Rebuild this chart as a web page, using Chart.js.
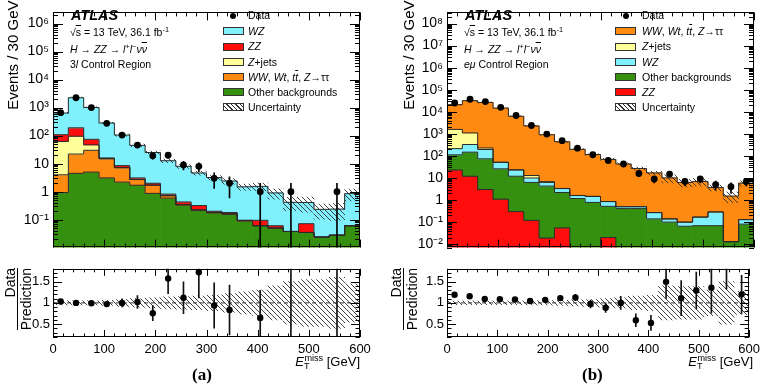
<!DOCTYPE html>
<html><head><meta charset="utf-8">
<script src="https://cdn.jsdelivr.net/npm/chart.js@4.4.0/dist/chart.umd.min.js"></script>
<style>
html,body{margin:0;padding:0;background:#fff}
body{width:765px;height:387px;overflow:hidden;position:relative;font-family:'Liberation Sans',Arial,Helvetica,sans-serif;color:#000}
canvas{position:absolute}
.t{position:absolute;white-space:nowrap;line-height:1}
.ann{font-size:10.5px}
.leg{font-size:10.5px}
.sw{position:absolute;width:20px;height:8px;border:1px solid #333;box-sizing:border-box}
.dot{position:absolute;width:6px;height:6px;border-radius:50%;background:#000}
.ol{text-decoration:overline}
sup,sub{line-height:0;font-size:70%}
.rot{position:absolute;white-space:nowrap;line-height:1;transform:rotate(-90deg);transform-origin:center center;text-align:right}
.frac{display:inline-flex;flex-direction:column;align-items:flex-end;font-size:14px;line-height:1.02}
.frac .den{border-top:1px solid #000;padding-top:1px}
.lbl{font-family:'Liberation Serif','Times New Roman',serif;font-weight:bold;font-size:17px}
</style></head><body>
<canvas id="mainA" width="385" height="260" style="left:0;top:0"></canvas>
<canvas id="ratioA" width="385" height="100" style="left:0;top:258px"></canvas>
<canvas id="mainB" width="380" height="260" style="left:385px;top:0"></canvas>
<canvas id="ratioB" width="380" height="100" style="left:385px;top:258px"></canvas>

<!-- panel (a) annotations -->
<div class="t" style="left:71px;top:8px;font-size:14.5px;font-weight:bold;font-style:italic">ATLAS</div>
<div class="t ann" style="left:70px;top:27px">√<span class="ol">s</span> = 13 TeV, 36.1 fb<sup>-1</sup></div>
<div class="t ann" style="left:70px;top:43.5px"><i>H</i> → <i>ZZ</i> → <i>l</i><sup>+</sup><i>l</i><sup>−</sup><i>ν</i><span class="ol"><i>ν</i></span></div>
<div class="t ann" style="left:70px;top:58.5px">3<i>l</i> Control Region</div>

<div id="legA"></div>
<div id="legB"></div>

<!-- panel (b) annotations -->
<div class="t" style="left:465px;top:8px;font-size:14.5px;font-weight:bold;font-style:italic">ATLAS</div>
<div class="t ann" style="left:464px;top:27px">√<span class="ol">s</span> = 13 TeV, 36.1 fb<sup>-1</sup></div>
<div class="t ann" style="left:464px;top:43.5px"><i>H</i> → <i>ZZ</i> → <i>l</i><sup>+</sup><i>l</i><sup>−</sup><i>ν</i><span class="ol"><i>ν</i></span></div>
<div class="t ann" style="left:464px;top:58.5px"><i>eμ</i> Control Region</div>

<!-- axis titles -->
<div class="rot" style="left:-88px;top:93px;width:200px;height:15px;font-size:15px">Events / 30 GeV</div>
<div class="rot" style="left:308px;top:93px;width:200px;height:15px;font-size:15px">Events / 30 GeV</div>
<div class="rot" style="left:-23.5px;top:283.5px;width:80px;height:30px;text-align:center"><span class="frac"><span>Data</span><span class="den">Prediction</span></span></div>
<div class="rot" style="left:363px;top:283.5px;width:80px;height:30px;text-align:center"><span class="frac"><span>Data</span><span class="den">Prediction</span></span></div>

<div class="t" style="left:250px;width:110px;text-align:right;top:354.5px;font-size:13px"><i>E</i><sub style="font-size:70%;vertical-align:-3px">T</sub><sup style="font-size:70%;vertical-align:5px;margin-left:-5px">miss</sup> [GeV]</div>
<div class="t" style="left:643px;width:110px;text-align:right;top:354.5px;font-size:13px"><i>E</i><sub style="font-size:70%;vertical-align:-3px">T</sub><sup style="font-size:70%;vertical-align:5px;margin-left:-5px">miss</sup> [GeV]</div>
<div class="t lbl" style="left:192px;top:366px">(a)</div>
<div class="t lbl" style="left:582px;top:366px">(b)</div>

<script>
// ---------------- data ----------------
const binCenters = [15,45,75,105,135,165,195,225,255,285,315,345,375,405,435,465,495,525,555,585];
const binEdges   = [0,30,60,90,120,150,180,210,240,270,300,330,360,390,420,450,480,510,540,570,600];
const xTickLabels = [0,100,200,300,400,500,600];
const ratioTickLabels = [0.5,1,1.5];
const yTicksA = [0.1,1,10,100,1e3,1e4,1e5,1e6];
const yTicksB = [0.01,0.1,1,10,100,1e3,1e4,1e5,1e6,1e7,1e8];

// (a) 3l control region, stacked bottom -> top
const a_other = [0.93,4.5,5.0,3.1,2.2,1.7,0.87,0.59,0.34,0.22,0.175,0.158,0.089,0.061,0.050,0.038,0.035,0.024,0.028,0.061];
const a_ww    = [3.07,17.5,25,11.7,4.9,1.0,0.83,0.13,0,0,0.005,0.002,0.005,0,0,0,0,0,0,0];
const a_zjets = [58,73,17,0.4,0.1,0.02,0.02,0,0,0,0,0,0,0,0,0,0,0,0,0];
const a_zz    = [46,95,27,0.8,1.3,0.38,0.28,0.1,0.09,0.1,0.02,0.02,0.001,0.034,0.011,0,0.037,0,0,0];
const a_wz    = [532,2060,936,267,96.5,41.9,23,11.9,7.6,4.33,3.0,2.22,1.4,1.45,0.84,0.38,0.34,0.21,0.21,0.79];
const a_data    = [660,2250,1000,275,105,46,19,20,9,8,3,2,0,1,0,1,0,0,1,0];
const a_dataErr = [26,47,32,17,10,6.8,4.4,4.5,3,2.8,1.7,1.4,0,1,0,1,0,0,1,0];
const a_relUnc  = [0.05,0.05,0.05,0.06,0.08,0.10,0.12,0.14,0.15,0.16,0.18,0.22,0.26,0.30,0.40,0.50,0.55,0.55,0.60,0.45];

// (b) e-mu control region, stacked bottom -> top
const b_zz    = [23,12,3.0,1.1,0.3,0.12,0.019,0.055,0,0,0.02,0,0,0,0,0,0,0,0,0];
const b_other = [89,136,71,24.9,11.7,6.18,4.28,2.15,1.17,0.78,0.50,0.41,0.41,0.14,0.10,0.065,0.069,0.069,0.013,0.081];
const b_wz    = [102,182,121,25,11,3.7,2.0,1.1,0.43,0.68,0.33,0.09,0.09,0.13,0.04,0.035,0.10,0.22,0,0.049];
const b_zjets = [1376,770,35,1,0.5,3,0.5,0.05,0.02,0.01,0.01,0,0,0,0,0,0,0,0,0];
const b_ww    = [19410,30900,26370,14650,6280,2287,908,437,198,114.5,69,42.5,26.5,16.7,9.9,6.2,6.8,3.4,1.5,5.7];
const b_data    = [25000,37000,29000,16000,6800,2400,980,490,225,113,62,43,16,9,15,7,9,5,4,7];
const b_dataErr = [158,192,170,126,82,49,31,22,15,10.6,7.9,6.6,4,3,3.9,2.6,3,2.2,2,2.6];
const b_relUnc  = [0.04,0.04,0.04,0.04,0.04,0.05,0.05,0.06,0.07,0.08,0.10,0.12,0.16,0.18,0.40,0.38,0.38,0.30,0.50,0.27];

// ---------------- styles ----------------
const COL = {wz:'#80f0fd', zz:'#ff0d0d', zjets:'#ffff99', ww:'#ff8a12', other:'#36900f'};
const FONT = "'Liberation Sans', Arial, Helvetica, sans-serif";
const FLOOR = 1e-6;   // stands in for zero on the log axes (below the visible range)
Chart.defaults.font.family = FONT;
Chart.defaults.color = '#000';

function hatchPattern(){
  const c = document.createElement('canvas'); c.width = 5; c.height = 5;
  const g = c.getContext('2d');
  g.strokeStyle = '#303030'; g.lineWidth = 0.9;
  g.beginPath();
  g.moveTo(0,0); g.lineTo(5,5);
  g.moveTo(-1,4); g.lineTo(1,6);
  g.moveTo(4,-1); g.lineTo(6,1);
  g.stroke();
  return g.createPattern(c,'repeat');
}
const HATCH = hatchPattern();

function sup(n){
  const m = {'-':'⁻','0':'⁰','1':'¹','2':'²','3':'³','4':'⁴','5':'⁵','6':'⁶','7':'⁷','8':'⁸','9':'⁹'};
  return String(n).split('').map(c=>m[c]).join('');
}
function logLabel(v){
  const e = Math.round(Math.log10(v));
  if (e === 0) return '1';
  if (e === 1) return '10';
  return '10' + sup(e);
}

function logMinor(min,max){
  const out=[];
  for (let e=Math.floor(Math.log10(min)); e<=Math.ceil(Math.log10(max)); e++){
    for (let k=1;k<=9;k++){ const v=k*Math.pow(10,e); if (v>=min && v<=max) out.push({v, l: k===1?10:5}); }
  }
  return out;
}
function linTicks(min,max,step,majorEvery,lMaj,lMin){
  const out=[]; const n=Math.round((max-min)/step);
  for (let i=0;i<=n;i++){ const v=min+i*step; const maj=Math.abs(v/majorEvery-Math.round(v/majorEvery))<1e-6; out.push({v, l: maj?lMaj:lMin}); }
  return out;
}

const frameTicks = {
  id:'frameTicks',
  afterDatasetsDraw(chart, args, o){
    const {ctx, chartArea:A, scales:{x,y}} = chart;
    ctx.save();
    ctx.strokeStyle='#000'; ctx.lineWidth=1;
    ctx.beginPath();
    for (const t of o.xt){
      const px=Math.round(x.getPixelForValue(t.v))+0.5;
      ctx.moveTo(px,A.bottom); ctx.lineTo(px,A.bottom-t.l);
      ctx.moveTo(px,A.top); ctx.lineTo(px,A.top+t.l);
    }
    for (const t of o.yt){
      if (t.v<y.min || t.v>y.max) continue;
      const py=Math.round(y.getPixelForValue(t.v))+0.5;
      ctx.moveTo(A.left,py); ctx.lineTo(A.left+t.l,py);
      ctx.moveTo(A.right,py); ctx.lineTo(A.right-t.l,py);
    }
    ctx.stroke();
    ctx.strokeRect(Math.round(A.left)+0.5, Math.round(A.top)+0.5, Math.round(A.width)-1, Math.round(A.height)-1);
    ctx.restore();
  }
};

function cumulate(comps){
  let run = new Array(binCenters.length).fill(0);
  return comps.map(c=>{ const lo=run.slice(); run=run.map((v,i)=>v+c[i]); return {lo, hi:run.slice()}; });
}
const pos = v => Math.max(v, FLOOR);

const barCommon = {type:'bar', grouped:false, barPercentage:1, categoryPercentage:1, borderWidth:0};

function mainDatasets(comps, colors, data, err, rel){
  const cum = cumulate(comps);
  const total = cum[cum.length-1].hi;
  const ds = [];
  cum.forEach((c,k)=>{
    ds.push({...barCommon, order:20-k, backgroundColor:colors[k],
      data: binCenters.map((x,i)=>({x, y:[pos(c.lo[i]), pos(c.hi[i])]}))});
    ds.push({type:'line', order:10, stepped:'before', borderColor:'#2a2a2a', borderWidth:1, pointRadius:0, fill:false,
      data: binEdges.map((x,i)=>({x, y:pos(c.hi[Math.min(i,binCenters.length-1)])}))});
  });
  ds.push({...barCommon, order:5, backgroundColor:HATCH,
    data: binCenters.map((x,i)=>({x, y:[pos(total[i]*(1-rel[i])), total[i]*(1+rel[i])]}))});
  ds.push({...barCommon, order:2, barThickness:1, backgroundColor:'#000',
    data: binCenters.map((x,i)=>data[i]>0?{x, y:[pos(data[i]-err[i]), data[i]+err[i]]}:null).filter(Boolean)});
  ds.push({type:'scatter', order:1, pointRadius:3.4, pointBackgroundColor:'#000', pointBorderWidth:0,
    data: binCenters.map((x,i)=>data[i]>0?{x, y:data[i]}:null).filter(Boolean)});
  return {ds, total};
}

function ratioDatasets(total, data, err, rel){
  return [
    {...barCommon, order:5, backgroundColor:HATCH,
      data: binCenters.map((x,i)=>({x, y:[1-rel[i], 1+rel[i]]}))},
    {type:'line', order:4, borderColor:'#333', borderWidth:1, borderDash:[4,3], pointRadius:0, fill:false,
      data:[{x:0,y:1},{x:600,y:1}]},
    {...barCommon, order:2, barThickness:1, backgroundColor:'#111',
      data: binCenters.map((x,i)=>data[i]>0?{x, y:[(data[i]-err[i])/total[i], (data[i]+err[i])/total[i]]}:null).filter(Boolean)},
    {type:'scatter', order:1, pointRadius:3.2, pointBackgroundColor:'#000', pointBorderWidth:0,
      data: binCenters.map((x,i)=>data[i]>0?{x, y:data[i]/total[i]}:null).filter(Boolean)}
  ];
}

const xMinorMain = linTicks(0,600,20,100,8,4);
const xMinorRatio = linTicks(0,600,20,100,7,3.5);
const ratioYT = linTicks(0.2,1.8,0.1,0.5,9,4.5);

function mainChart(id, dsObj, yMin, yMax, yLabels, padRight){
  new Chart(document.getElementById(id), {
    type:'bar',
    data:{datasets: dsObj.ds},
    options:{
      responsive:false, animation:false, devicePixelRatio:1, events:[],
      layout:{padding:{top:3, right:padRight, bottom:3, left:0}},
      plugins:{legend:{display:false}, tooltip:{enabled:false},
        frameTicks:{xt:xMinorMain, yt:logMinor(yMin,yMax)}},
      scales:{
        x:{type:'linear', min:0, max:600, display:false, offset:false},
        y:{type:'logarithmic', min:yMin, max:yMax,
          grid:{display:false, drawTicks:false}, border:{display:false},
          afterBuildTicks:s=>{ s.ticks = yLabels.map(v=>({value:v})); },
          afterFit:s=>{ s.width = id==='mainA'?53:62; },
          ticks:{autoSkip:false, padding:4, font:{size:14}, callback:v=>logLabel(v)}}
      }
    },
    plugins:[frameTicks]
  });
}

function ratioChart(id, ds, padRight, yw){
  new Chart(document.getElementById(id), {
    type:'bar',
    data:{datasets: ds},
    options:{
      responsive:false, animation:false, devicePixelRatio:1, events:[],
      layout:{padding:{top:4, right:padRight, bottom:0, left:0}},
      plugins:{legend:{display:false}, tooltip:{enabled:false},
        frameTicks:{xt:xMinorRatio, yt:ratioYT}},
      scales:{
        x:{type:'linear', min:0, max:600, offset:false,
          grid:{display:false, drawTicks:false}, border:{display:false},
          afterBuildTicks:s=>{ s.ticks = xTickLabels.map(v=>({value:v})); },
          afterFit:s=>{ s.height = 21; },
          ticks:{autoSkip:false, maxRotation:0, padding:5, font:{size:13}, callback:v=>String(v)}},
        y:{type:'linear', min:0.2, max:1.8,
          grid:{display:false, drawTicks:false}, border:{display:false},
          afterBuildTicks:s=>{ s.ticks = ratioTickLabels.map(v=>({value:v})); },
          afterFit:s=>{ s.width = yw; },
          ticks:{autoSkip:false, padding:3, font:{size:13}, callback:v=>String(v)}}
      }
    },
    plugins:[frameTicks]
  });
}

const A = mainDatasets([a_other,a_ww,a_zjets,a_zz,a_wz], [COL.other,COL.ww,COL.zjets,COL.zz,COL.wz], a_data, a_dataErr, a_relUnc);
mainChart('mainA', A, 0.0101, 2.5e6, yTicksA, 25);
ratioChart('ratioA', ratioDatasets(A.total, a_data, a_dataErr, a_relUnc), 25, 53);

const B = mainDatasets([b_zz,b_other,b_wz,b_zjets,b_ww], [COL.zz,COL.other,COL.wz,COL.zjets,COL.ww], b_data, b_dataErr, b_relUnc);
mainChart('mainB', B, 0.007, 3.2e8, yTicksB, 11);
ratioChart('ratioB', ratioDatasets(B.total, b_data, b_dataErr, b_relUnc), 11, 62);

// ---------------- legends (HTML text) ----------------
const legA = [
  {t:'Data', dot:true},
  {t:'<i>WZ</i>', c:COL.wz},
  {t:'<i>ZZ</i>', c:COL.zz},
  {t:'<i>Z</i>+jets', c:COL.zjets},
  {t:'<i>WW</i>, <i>Wt</i>, <i>t</i><span class="ol"><i>t</i></span>, <i>Z</i>→ττ', c:COL.ww},
  {t:'Other backgrounds', c:COL.other},
  {t:'Uncertainty', h:true}
];
const legB = [
  {t:'Data', dot:true},
  {t:'<i>WW</i>, <i>Wt</i>, <i>t</i><span class="ol"><i>t</i></span>, <i>Z</i>→ττ', c:COL.ww},
  {t:'<i>Z</i>+jets', c:COL.zjets},
  {t:'<i>WZ</i>', c:COL.wz},
  {t:'Other backgrounds', c:COL.other},
  {t:'<i>ZZ</i>', c:COL.zz},
  {t:'Uncertainty', h:true}
];
const rowY = [15.7,31.2,46.5,61.8,77,92.2,107.4];
function buildLegend(el, items, swLeft, txtLeft){
  let h='';
  items.forEach((it,i)=>{
    const cy=rowY[i];
    if (it.dot) h+=`<div class="dot" style="left:${swLeft+7.5}px;top:${cy-3}px"></div>`;
    else if (it.h) h+=`<div class="sw" style="left:${swLeft}px;top:${cy-4}px;width:21px;background:repeating-linear-gradient(45deg,#fff 0 2.2px,#333 2.2px 3.2px)"></div>`;
    else h+=`<div class="sw" style="left:${swLeft}px;top:${cy-4}px;width:21px;background:${it.c}"></div>`;
    h+=`<div class="t leg" style="left:${txtLeft}px;top:${cy-5.25}px">${it.t}</div>`;
  });
  el.innerHTML=h;
}
buildLegend(document.getElementById('legA'), legA, 222.5, 248);
buildLegend(document.getElementById('legB'), legB, 615, 642);
</script>
</body></html>
